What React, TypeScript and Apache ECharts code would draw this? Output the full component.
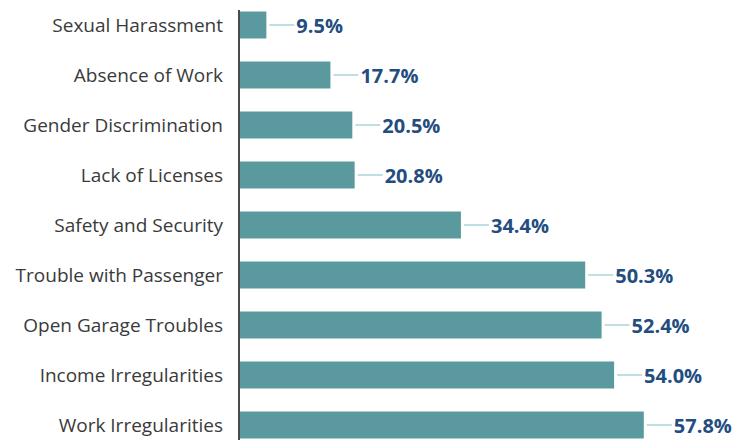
import React, { useEffect, useRef } from "react";
import * as echarts from "echarts";

const categories = [
  "Sexual Harassment",
  "Absence of Work",
  "Gender Discrimination",
  "Lack of Licenses",
  "Safety and Security",
  "Trouble with Passenger",
  "Open Garage Troubles",
  "Income Irregularities",
  "Work Irregularities",
];
const values = [9.5, 17.7, 20.5, 20.8, 34.4, 50.3, 52.4, 54.0, 57.8];

export default function App() {
  const ref = useRef<HTMLDivElement>(null);
  useEffect(() => {
    if (!ref.current) return;
    const chart = echarts.init(ref.current, undefined, { renderer: "svg" });
    chart.setOption({
      animation: false,
      grid: { left: 239, right: 90, top: 0, height: 450, outerBoundsMode: "none" },
      xAxis: {
        type: "value",
        min: 6,
        max: 60,
        show: false,
      },
      yAxis: {
        type: "category",
        data: categories,
        inverse: true,
        axisLine: { show: false },
        axisTick: { show: false },
        axisLabel: {
          margin: 16,
          fontFamily: "Open Sans",
          fontSize: 19,
          color: "#3a3a3a",
        },
      },
      series: [
        {
          type: "bar",
          data: values,
          barWidth: 27,
          itemStyle: { color: "#5a9a9e" },
          label: {
            show: true,
            position: "right",
            distance: 30,
            formatter: (p: any) => p.value.toFixed(1) + "%",
            fontFamily: "Open Sans",
            fontWeight: "bold",
            fontSize: 20,
            color: "#234d80",
          },
        },
        {
          type: "custom",
          data: values.map((v, i) => [v, i]),
          renderItem: (params: any, api: any) => {
            const pt = api.coord([api.value(0), api.value(1)]);
            return {
              type: "line",
              shape: { x1: pt[0] + 3, y1: pt[1], x2: pt[0] + 28, y2: pt[1] },
              style: { stroke: "#bfe0e3", lineWidth: 2 },
            };
          },
          z: 3,
        },
      ],
      graphic: [
        {
          type: "line",
          shape: { x1: 239, y1: 10, x2: 239, y2: 440 },
          style: { stroke: "#4a4a4a", lineWidth: 2 },
          z: 10,
        },
      ],
    });
    return () => chart.dispose();
  }, []);
  return (
    <div
      ref={ref}
      style={{ position: "absolute", left: 0, top: 0, width: 751, height: 440 }}
    />
  );
}
